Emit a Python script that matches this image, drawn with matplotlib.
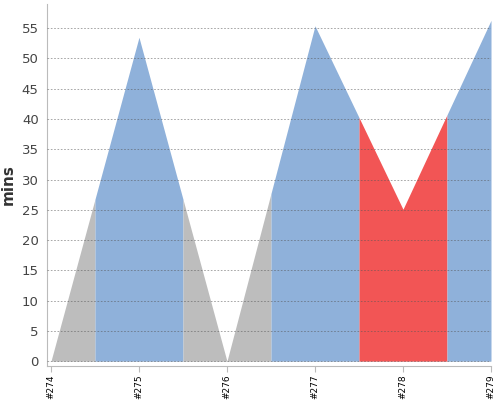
# mins per build, area coloured by build status
import numpy as np
import matplotlib.pyplot as plt

builds = ["#274", "#275", "#276", "#277", "#278", "#279"]
mins = [0, 53.5, 0, 55.4, 25.1, 56.3]
status = ["gray", "blue", "gray", "blue", "red", "blue"]
colors = {"gray": "#bdbdbd", "blue": "#8fb1da", "red": "#f25555"}

x = np.arange(len(builds))
y = np.array(mins, dtype=float)

fig = plt.figure(figsize=(5, 4), dpi=100)
ax = fig.add_axes([0.094, 0.085, 0.888, 0.905])

# each build colours the area half way to its neighbours
for i, s in enumerate(status):
    lo = max(x[0], i - 0.5)
    hi = min(x[-1], i + 0.5)
    xs = np.linspace(lo, hi, 201)
    ys = np.interp(xs, x, y)
    ax.fill_between(xs, 0, ys, color=colors[s], linewidth=0, zorder=1)

ax.set_xlim(-0.045, len(builds) - 1)
ax.set_ylim(-0.8, 59)
ax.set_yticks(range(0, 60, 5))
ax.set_xticks(x, builds)
ax.tick_params(axis="y", length=0, labelsize=9.5, labelcolor="#444444", pad=6)
ax.tick_params(axis="x", length=4, color="#bbbbbb", pad=2, labelsize=6.5, labelrotation=90)
ax.yaxis.grid(True, linestyle=(0, (2, 2)), color="#555555", linewidth=0.6, alpha=0.6, zorder=3)
ax.set_axisbelow(False)
for sp in ["top", "right"]:
    ax.spines[sp].set_visible(False)
ax.spines["left"].set_color("#bbbbbb")
ax.spines["bottom"].set_color("#bbbbbb")
ax.set_ylabel("mins", fontsize=11, color="#333333", fontweight="bold", labelpad=4)

fig.savefig("out.png")
